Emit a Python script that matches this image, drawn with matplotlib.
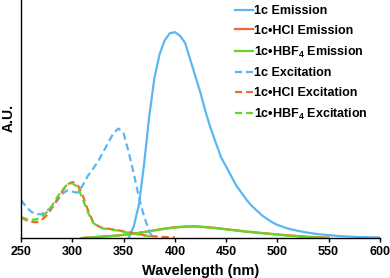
import matplotlib
matplotlib.use("Agg")
import matplotlib.pyplot as plt

plt.rcParams['font.family'] = ['Liberation Sans', 'DejaVu Sans']
plt.rcParams['font.weight'] = 'bold'
plt.rcParams['mathtext.fontset'] = 'custom'
plt.rcParams['mathtext.bf'] = 'Liberation Sans:bold'
plt.rcParams['mathtext.rm'] = 'Liberation Sans:bold'

# 1c Emission
wl_em_1c = [355, 360, 365, 370, 375, 380, 385, 390, 395, 400, 405, 410, 415, 420, 425,
            430, 435, 440, 445, 450, 455, 460, 465, 470, 475, 480, 485, 490, 495, 500,
            510, 520, 530, 540, 550, 560, 570, 580, 590, 600]
em_1c = [0.0, 0.05, 0.14, 0.31, 0.51, 0.67, 0.77, 0.83, 0.86, 0.865, 0.85, 0.82, 0.75, 0.68, 0.61,
         0.53, 0.46, 0.40, 0.34, 0.30, 0.26, 0.22, 0.19, 0.16, 0.135, 0.115, 0.095, 0.08, 0.066, 0.055,
         0.04, 0.03, 0.022, 0.016, 0.012, 0.008, 0.006, 0.004, 0.003, 0.002]

# 1c•HCl Emission
wl_em_hcl = [310, 320, 330, 340, 350, 360, 370, 380, 390, 400, 410, 420, 430, 440, 450,
             460, 470, 480, 490, 500, 510, 520, 530, 540, 550]
em_hcl = [0.0, 0.003, 0.006, 0.009, 0.013, 0.018, 0.025, 0.032, 0.039, 0.045, 0.048, 0.049, 0.046,
          0.042, 0.037, 0.032, 0.027, 0.023, 0.019, 0.015, 0.011, 0.008, 0.005, 0.003, 0.001]

# 1c•HBF4 Emission
wl_em_hbf = [309, 320, 330, 340, 350, 360, 370, 380, 390, 400, 410, 420, 430, 440, 450,
             460, 470, 480, 490, 500, 510, 520, 530, 540, 550]
em_hbf = [0.0, 0.003, 0.006, 0.009, 0.013, 0.018, 0.025, 0.032, 0.039, 0.044, 0.047, 0.048, 0.045,
          0.041, 0.036, 0.031, 0.026, 0.022, 0.018, 0.014, 0.010, 0.007, 0.004, 0.002, 0.0]

# 1c Excitation
wl_ex_1c = [250, 255, 260, 265, 270, 275, 280, 285, 290, 295, 300, 305, 310, 315, 320,
            325, 330, 335, 340, 345, 350, 355, 360, 365, 370, 375, 377]
ex_1c = [0.16, 0.13, 0.11, 0.10, 0.10, 0.115, 0.13, 0.155, 0.185, 0.20, 0.195, 0.19, 0.22, 0.26, 0.29,
         0.32, 0.36, 0.40, 0.44, 0.46, 0.44, 0.36, 0.27, 0.17, 0.09, 0.03, 0.01]

# 1c•HCl Excitation
wl_ex_hcl = [250, 255, 260, 265, 270, 275, 280, 285, 290, 295, 300, 305, 310, 315, 320,
             325, 330, 340, 350, 360, 370, 380, 390, 400]
ex_hcl = [0.085, 0.075, 0.068, 0.066, 0.075, 0.095, 0.125, 0.16, 0.195, 0.225, 0.235, 0.225, 0.18,
          0.12, 0.07, 0.05, 0.042, 0.036, 0.028, 0.02, 0.012, 0.007, 0.004, 0.003]

# 1c•HBF4 Excitation
wl_ex_hbf = [250, 255, 260, 265, 270, 275, 280, 285, 290, 295, 300, 305, 310, 315, 320,
             325, 330, 340, 350, 360, 370, 380]
ex_hbf = [0.088, 0.08, 0.076, 0.078, 0.088, 0.108, 0.135, 0.17, 0.20, 0.225, 0.23, 0.215, 0.165,
          0.11, 0.065, 0.048, 0.04, 0.034, 0.026, 0.018, 0.01, 0.005]

x_ticks = [250, 300, 350, 400, 450, 500, 550, 600]

blue = '#5AB7F2'
orange = '#F2692F'
green = '#66D42A'

fig = plt.figure(figsize=(3.9, 2.78), dpi=100)
ax = fig.add_axes([0.054, 0.144, 0.92, 0.856])

lw = 1.6
dash = (3.2, 1.8)
l1, = ax.plot(wl_em_1c, em_1c, color=blue, lw=lw, label='1c Emission')
l2, = ax.plot(wl_em_hcl, em_hcl, color=orange, lw=lw, label='1c•HCl Emission')
l3, = ax.plot(wl_em_hbf, em_hbf, color=green, lw=lw, label='1c•HBF$_\\mathbf{4}$ Emission')
l4, = ax.plot(wl_ex_1c, ex_1c, color=blue, lw=lw, dashes=dash, label='1c Excitation')
l5, = ax.plot(wl_ex_hcl, ex_hcl, color=orange, lw=lw, dashes=dash, label='1c•HCl Excitation')
l6, = ax.plot(wl_ex_hbf, ex_hbf, color=green, lw=lw, dashes=dash, label='1c•HBF$_\\mathbf{4}$ Excitation')

ax.set_xlim(250, 600)
ax.set_ylim(0, 1.0)
ax.set_xticks(x_ticks)
ax.set_xticklabels([str(t) for t in x_ticks], fontsize=9, fontweight='bold')
ax.set_yticks([])
ax.tick_params(axis='x', direction='out', length=3, width=1, pad=3)
for s in ['top', 'right']:
    ax.spines[s].set_visible(False)
for s in ['left', 'bottom']:
    ax.spines[s].set_linewidth(1.0)
ax.set_xlabel('Wavelength (nm)', fontsize=10.5, fontweight='bold', labelpad=4)
fig.text(9 / 390, 1 - 118 / 278, 'A.U.', rotation=90, ha='center', va='center',
         fontsize=10, fontweight='bold')

leg = fig.legend(handles=[l1, l2, l3, l4, l5, l6], loc='upper left',
                 bbox_to_anchor=(235 / 390, 1 - 5 / 278), frameon=False,
                 fontsize=9, handlelength=1.4, handletextpad=0.15,
                 labelspacing=0.62, borderpad=0, borderaxespad=0)
for t in leg.get_texts():
    t.set_fontweight('bold')

fig.savefig('out.png', dpi=100)
